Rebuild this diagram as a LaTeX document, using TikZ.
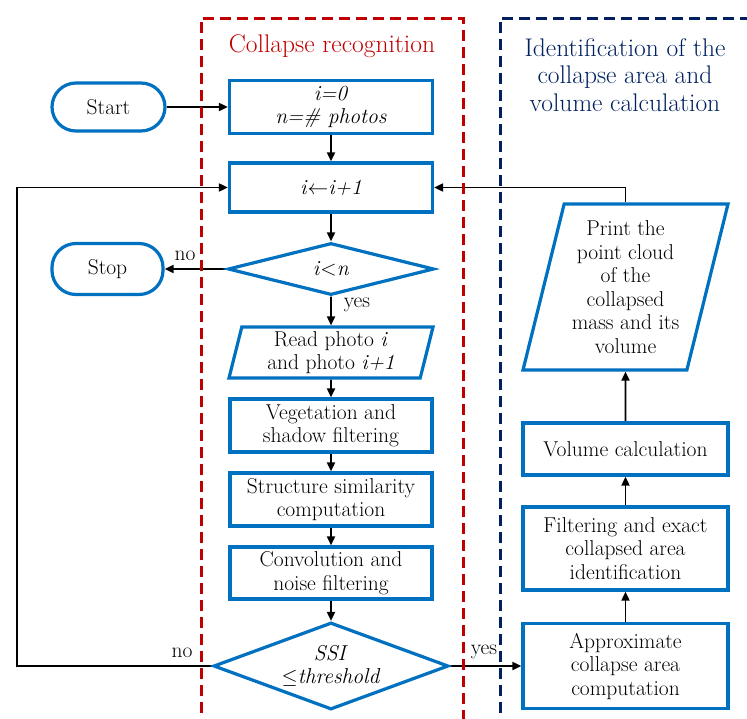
\documentclass[tikz,border=0pt]{standalone}
\usepackage{amsmath}
\usetikzlibrary{arrows, shapes, positioning, arrows.meta}

\definecolor{boxblue}{RGB}{0,112,192}
\definecolor{lanered}{RGB}{192,0,0}
\definecolor{lanenavy}{RGB}{0,32,96}

\tikzset{
  proc/.style={rectangle, draw=boxblue, line width=3.2pt, fill=white, align=center, inner sep=1pt},
  term/.style={proc, rounded corners=24pt},
  dec/.style={diamond, draw=boxblue, line width=3.2pt, fill=white, align=center, inner sep=0pt},
  io/.style={trapezium, trapezium stretches body, draw=boxblue, line width=3.2pt, fill=white, align=center, inner sep=1pt},
  flow/.style={-{Triangle[length=9pt,width=8pt]}, line width=1.8pt},
  lane/.style={line width=3pt, dash pattern=on 11pt off 6pt}
}

\begin{document}
\begin{tikzpicture}[x=1pt, y=-1pt, font=\fontsize{21.5}{23.5}\selectfont]

\pgfdeclarelayer{bg}    % connectors go behind the boxes
\pgfsetlayers{bg,main}

\useasboundingbox (0,0) rectangle (747,718);

% lanes
\draw[lane, draw=lanered] (201,730) -- (201,18) -- (463,18) -- (463,730);
\draw[lane, draw=lanenavy] (500,730) -- (500,18) -- (760,18);
\node (t1)[text=lanered, font=\fontsize{25.5}{27.5}\selectfont] at (332,46) {Collapse recognition};
\node (t2)[text=lanenavy, align=center, font=\fontsize{25.5}{27.5}\selectfont] at (625,75) {Identification of the\\ collapse area and\\ volume calculation};

% left column
\node (start)[term, minimum width=113pt, minimum height=48pt] at (108.5,107) {Start};
\node (init)[proc, minimum width=203pt, minimum height=53pt] at (331,107) {\textit{i=0}\\ \textit{n=\# photos}};
\node (incr)[proc, minimum width=203pt, minimum height=49pt] at (331,187.5) {\textit{i}$\leftarrow$\textit{i+1}};
\node (test)[dec, aspect=4, minimum width=206pt, minimum height=52pt] at (331,269) {\textit{i}<\textit{n}};
\node (stop)[term, minimum width=111pt, minimum height=51pt] at (107.5,269) {Stop};
\node (read)[io, trapezium left angle=74, trapezium right angle=106, minimum width=204pt, minimum height=51pt] at (331,352.5) {Read photo \textit{i}\\ and photo \textit{i+1}};
\node (veg)[proc, minimum width=202pt, minimum height=53pt] at (331,425.5) {Vegetation and\\ shadow filtering};
\node (ssim)[proc, minimum width=202pt, minimum height=53pt] at (331,499.5) {Structure similarity\\ computation};
\node (conv)[proc, minimum width=202pt, minimum height=52pt] at (331,573) {Convolution and\\ noise filtering};
\node (ssi)[dec, aspect=2.7, minimum width=235pt, minimum height=87pt] at (331,666) {\textit{SSI}\\ $\leq$\textit{threshold}};

% right column
\node (approx)[proc, minimum width=205pt, minimum height=85pt] at (625.5,666) {Approximate\\ collapse area\\ computation};
\node (filt)[proc, minimum width=205pt, minimum height=83pt] at (625.5,548.5) {Filtering and exact\\ collapsed area\\ identification};
\node (vol)[proc, minimum width=205pt, minimum height=52pt] at (625.5,449) {Volume calculation};
\node (print)[io, trapezium left angle=73, trapezium right angle=107, minimum width=205pt, minimum height=166pt] at (625.5,287) {Print the\\ point cloud\\ of the\\ collapsed\\ mass and its\\ volume};

% branch labels
\node (no1) at (185,256) {no};
\node (yes1) at (357,305) {yes};
\node (no2) at (182,653) {no};
\node (yes2) at (484,652) {yes};

\coordinate (loop) at (17,666);

\begin{pgfonlayer}{bg}
\draw[flow] (start) -- (init);
\draw[flow] (init) -- (incr);
\draw[flow] (incr) -- (test);
\draw[flow] (test.west) -- (stop.east);
\draw[flow] (test.south) -- (read.north);
\draw[flow] (read) -- (veg);
\draw[flow] (veg) -- (ssim);
\draw[flow] (ssim) -- (conv);
\draw[flow] (conv) -- (ssi.north);
\draw[flow] (ssi.west) -- (loop) |- (incr.west);
\draw[flow] (ssi.east) -- (approx.west);
\draw[flow] (approx) -- (filt);
\draw[flow] (filt) -- (vol);
\draw[flow] (vol) -- (print.south);
\draw[flow] (print.north) |- (incr.east);
\end{pgfonlayer}
\end{tikzpicture}
\end{document}
